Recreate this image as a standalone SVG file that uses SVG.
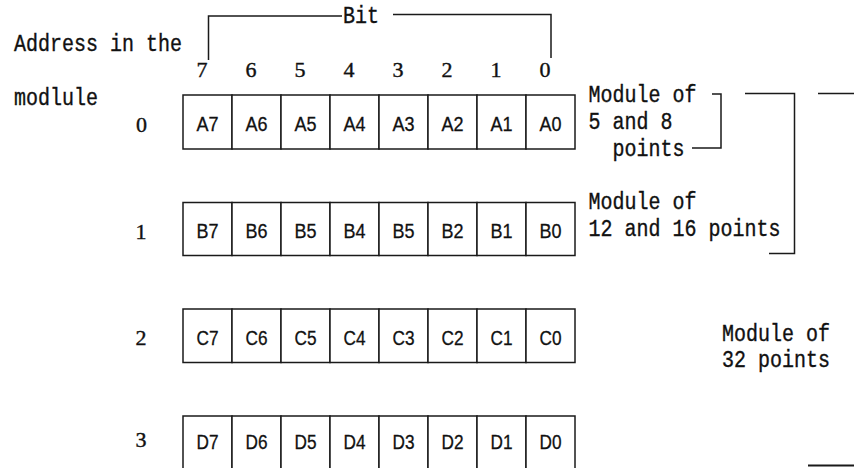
<svg xmlns="http://www.w3.org/2000/svg" width="854" height="468" viewBox="0 0 854 468">
<style>
.bg{fill:#ffffff}
.cell{fill:#ffffff;stroke:#1a1a1a;stroke-width:1.5}
.ln{fill:none;stroke:#1a1a1a;stroke-width:1.5}
.mono{font-family:"Liberation Mono","DejaVu Sans Mono",monospace;font-size:23px;fill:#111;stroke:#111;stroke-width:0.35}
.ser{font-family:"Liberation Serif","DejaVu Serif",serif;font-size:22px;fill:#111;stroke:#111;stroke-width:0.4;text-anchor:middle}
.lbl{font-family:"Liberation Sans","DejaVu Sans",sans-serif;font-size:20px;fill:#111;stroke:#111;stroke-width:0.3;text-anchor:middle}
</style>
<rect class="bg" x="0" y="0" width="854" height="468"/>

<g id="title">
<text class="mono" x="14" y="51" textLength="168" lengthAdjust="spacingAndGlyphs">Address in the</text>
<text class="mono" x="14" y="105" textLength="84" lengthAdjust="spacingAndGlyphs">modlule</text>
<text class="mono" x="343" y="22.5" textLength="36" lengthAdjust="spacingAndGlyphs">Bit</text>
</g>

<g id="bit-numbers">
<text class="ser" x="202" y="77">7</text>
<text class="ser" x="251" y="77">6</text>
<text class="ser" x="300" y="77">5</text>
<text class="ser" x="349" y="77">4</text>
<text class="ser" x="398" y="77">3</text>
<text class="ser" x="447" y="77">2</text>
<text class="ser" x="496" y="77">1</text>
<text class="ser" x="545" y="77">0</text>
</g>

<g id="row0">
<text class="ser" x="141.5" y="131.5">0</text>
<rect class="cell" x="183" y="95" width="49" height="54"/>
<rect class="cell" x="232" y="95" width="49" height="54"/>
<rect class="cell" x="281" y="95" width="49" height="54"/>
<rect class="cell" x="330" y="95" width="49" height="54"/>
<rect class="cell" x="379" y="95" width="49" height="54"/>
<rect class="cell" x="428" y="95" width="49" height="54"/>
<rect class="cell" x="477" y="95" width="49" height="54"/>
<rect class="cell" x="526" y="95" width="49" height="54"/>
<text class="lbl" x="207.5" y="130.5" textLength="22" lengthAdjust="spacingAndGlyphs">A7</text>
<text class="lbl" x="256.5" y="130.5" textLength="22" lengthAdjust="spacingAndGlyphs">A6</text>
<text class="lbl" x="305.5" y="130.5" textLength="22" lengthAdjust="spacingAndGlyphs">A5</text>
<text class="lbl" x="354.5" y="130.5" textLength="22" lengthAdjust="spacingAndGlyphs">A4</text>
<text class="lbl" x="403.5" y="130.5" textLength="22" lengthAdjust="spacingAndGlyphs">A3</text>
<text class="lbl" x="452.5" y="130.5" textLength="22" lengthAdjust="spacingAndGlyphs">A2</text>
<text class="lbl" x="501.5" y="130.5" textLength="22" lengthAdjust="spacingAndGlyphs">A1</text>
<text class="lbl" x="550.5" y="130.5" textLength="22" lengthAdjust="spacingAndGlyphs">A0</text>
</g>

<g id="row1">
<text class="ser" x="141" y="239">1</text>
<rect class="cell" x="183" y="202.5" width="49" height="53"/>
<rect class="cell" x="232" y="202.5" width="49" height="53"/>
<rect class="cell" x="281" y="202.5" width="49" height="53"/>
<rect class="cell" x="330" y="202.5" width="49" height="53"/>
<rect class="cell" x="379" y="202.5" width="49" height="53"/>
<rect class="cell" x="428" y="202.5" width="49" height="53"/>
<rect class="cell" x="477" y="202.5" width="49" height="53"/>
<rect class="cell" x="526" y="202.5" width="49" height="53"/>
<text class="lbl" x="207.5" y="237.5" textLength="22" lengthAdjust="spacingAndGlyphs">B7</text>
<text class="lbl" x="256.5" y="237.5" textLength="22" lengthAdjust="spacingAndGlyphs">B6</text>
<text class="lbl" x="305.5" y="237.5" textLength="22" lengthAdjust="spacingAndGlyphs">B5</text>
<text class="lbl" x="354.5" y="237.5" textLength="22" lengthAdjust="spacingAndGlyphs">B4</text>
<text class="lbl" x="403.5" y="237.5" textLength="22" lengthAdjust="spacingAndGlyphs">B5</text>
<text class="lbl" x="452.5" y="237.5" textLength="22" lengthAdjust="spacingAndGlyphs">B2</text>
<text class="lbl" x="501.5" y="237.5" textLength="22" lengthAdjust="spacingAndGlyphs">B1</text>
<text class="lbl" x="550.5" y="237.5" textLength="22" lengthAdjust="spacingAndGlyphs">B0</text>
</g>

<g id="row2">
<text class="ser" x="141" y="344.5">2</text>
<rect class="cell" x="183" y="309" width="49" height="53.5"/>
<rect class="cell" x="232" y="309" width="49" height="53.5"/>
<rect class="cell" x="281" y="309" width="49" height="53.5"/>
<rect class="cell" x="330" y="309" width="49" height="53.5"/>
<rect class="cell" x="379" y="309" width="49" height="53.5"/>
<rect class="cell" x="428" y="309" width="49" height="53.5"/>
<rect class="cell" x="477" y="309" width="49" height="53.5"/>
<rect class="cell" x="526" y="309" width="49" height="53.5"/>
<text class="lbl" x="207.5" y="345" textLength="22" lengthAdjust="spacingAndGlyphs">C7</text>
<text class="lbl" x="256.5" y="345" textLength="22" lengthAdjust="spacingAndGlyphs">C6</text>
<text class="lbl" x="305.5" y="345" textLength="22" lengthAdjust="spacingAndGlyphs">C5</text>
<text class="lbl" x="354.5" y="345" textLength="22" lengthAdjust="spacingAndGlyphs">C4</text>
<text class="lbl" x="403.5" y="345" textLength="22" lengthAdjust="spacingAndGlyphs">C3</text>
<text class="lbl" x="452.5" y="345" textLength="22" lengthAdjust="spacingAndGlyphs">C2</text>
<text class="lbl" x="501.5" y="345" textLength="22" lengthAdjust="spacingAndGlyphs">C1</text>
<text class="lbl" x="550.5" y="345" textLength="22" lengthAdjust="spacingAndGlyphs">C0</text>
</g>

<g id="row3">
<text class="ser" x="141" y="447">3</text>
<rect class="cell" x="183" y="416" width="49" height="56"/>
<rect class="cell" x="232" y="416" width="49" height="56"/>
<rect class="cell" x="281" y="416" width="49" height="56"/>
<rect class="cell" x="330" y="416" width="49" height="56"/>
<rect class="cell" x="379" y="416" width="49" height="56"/>
<rect class="cell" x="428" y="416" width="49" height="56"/>
<rect class="cell" x="477" y="416" width="49" height="56"/>
<rect class="cell" x="526" y="416" width="49" height="56"/>
<text class="lbl" x="207.5" y="449" textLength="22" lengthAdjust="spacingAndGlyphs">D7</text>
<text class="lbl" x="256.5" y="449" textLength="22" lengthAdjust="spacingAndGlyphs">D6</text>
<text class="lbl" x="305.5" y="449" textLength="22" lengthAdjust="spacingAndGlyphs">D5</text>
<text class="lbl" x="354.5" y="449" textLength="22" lengthAdjust="spacingAndGlyphs">D4</text>
<text class="lbl" x="403.5" y="449" textLength="22" lengthAdjust="spacingAndGlyphs">D3</text>
<text class="lbl" x="452.5" y="449" textLength="22" lengthAdjust="spacingAndGlyphs">D2</text>
<text class="lbl" x="501.5" y="449" textLength="22" lengthAdjust="spacingAndGlyphs">D1</text>
<text class="lbl" x="550.5" y="449" textLength="22" lengthAdjust="spacingAndGlyphs">D0</text>
</g>

<g id="module-5-8">
<text class="mono" x="588.5" y="102" textLength="108" lengthAdjust="spacingAndGlyphs">Module of</text>
<text class="mono" x="588.5" y="129" textLength="84" lengthAdjust="spacingAndGlyphs">5 and 8</text>
<text class="mono" x="612.5" y="156" textLength="72" lengthAdjust="spacingAndGlyphs">points</text>
</g>

<g id="module-12-16">
<text class="mono" x="588.5" y="209" textLength="108" lengthAdjust="spacingAndGlyphs">Module of</text>
<text class="mono" x="588.5" y="235.5" textLength="192" lengthAdjust="spacingAndGlyphs">12 and 16 points</text>
</g>

<g id="module-32">
<text class="mono" x="722" y="341" textLength="108" lengthAdjust="spacingAndGlyphs">Module of</text>
<text class="mono" x="722" y="367" textLength="108" lengthAdjust="spacingAndGlyphs">32 points</text>
</g>

<g id="connectors">
<polyline class="ln" points="208.5,60 208.5,16 342,16"/>
<polyline class="ln" points="393,14.5 551,14.5 551,58"/>
<polyline class="ln" points="712,94 721,94 721,148 692,148"/>
<polyline class="ln" points="745,93.5 794.5,93.5 794.5,253.5 769,253.5"/>
<line class="ln" x1="818" y1="93.5" x2="854" y2="93.5"/>
<line class="ln" x1="808" y1="465.5" x2="854" y2="465.5" style="stroke-width:2"/>
</g>
</svg>
